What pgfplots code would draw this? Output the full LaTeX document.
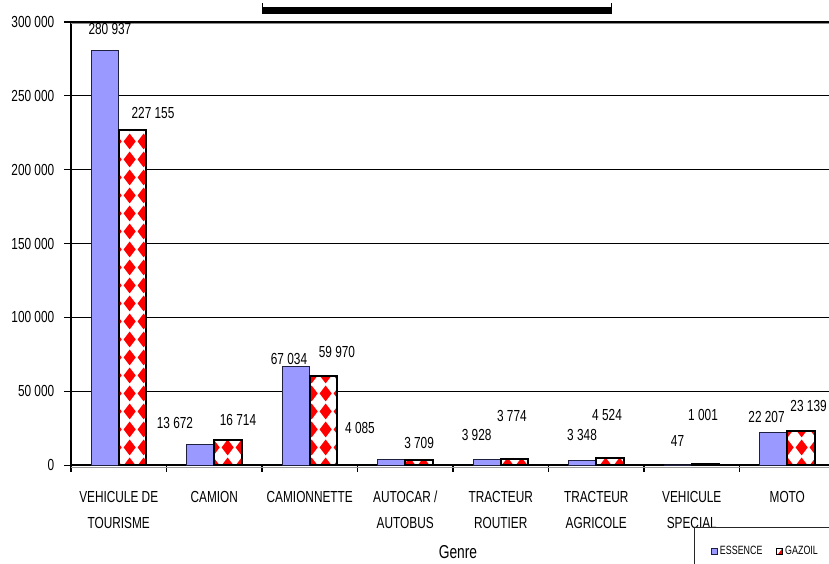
\documentclass[border=0pt]{standalone}
\usepackage{fontspec}
\setmainfont{Liberation Sans}[FakeStretch=0.74]
\usepackage{pgfplots}
\pgfplotsset{compat=1.18}
\usetikzlibrary{patterns}

\definecolor{essence}{HTML}{9999FF}
\definecolor{essedge}{HTML}{1F1F3F}

% red diamonds for the GAZOIL bars
\pgfdeclarepatternformonly{diamonds}{\pgfpointorigin}{\pgfpoint{10.23pt}{13.5pt}}{\pgfpoint{10.23pt}{13.5pt}}{%
  \pgfpathmoveto{\pgfpoint{5.115pt}{0.5pt}}%
  \pgfpathlineto{\pgfpoint{9.8pt}{6.75pt}}%
  \pgfpathlineto{\pgfpoint{5.115pt}{13pt}}%
  \pgfpathlineto{\pgfpoint{0.43pt}{6.75pt}}%
  \pgfpathclose
  \pgfusepath{fill}%
}

\newcommand\lbl{\fontsize{12}{14}\selectfont}

\begin{document}
\begin{tikzpicture}
\begin{axis}[
    name=ax,
    scale only axis,
    width=573pt, height=332.25pt,
    clip=false,
    ybar,
    xmin=-0.5, xmax=7.5,
    ymin=0, ymax=300000,
    axis x line=bottom, axis y line=left,
    axis line style={-},
    x axis line style={line width=1.5pt},
    y axis line style={line width=1pt},
    tick align=outside,
    major tick length=5pt,
    tick style={black, line width=0.8pt},
    ytick={0,50000,100000,150000,200000,250000,300000},
    yticklabels={0, 50 000, 100 000, 150 000, 200 000, 250 000, 300 000},
    scaled y ticks=false,
    yticklabel style={font=\lbl, xshift=-4pt},
    xtick={-0.5,0.5,1.5,2.5,3.5,4.5,5.5,6.5,7.5},
    xticklabels={,,,,,,,,},
    extra x ticks={0,1,2,3,4,5,6,7},
    extra x tick labels={VEHICULE DE\\TOURISME, CAMION, CAMIONNETTE, AUTOCAR /\\AUTOBUS, TRACTEUR\\ROUTIER, TRACTEUR\\AGRICOLE, VEHICULE\\SPECIAL, MOTO},
    extra x tick style={major tick length=0pt, xticklabel style={align=center, font=\fontsize{12}{19.5}\selectfont, yshift=-16pt}},
    ymajorgrids,
    grid style={black, line width=0.7pt},
    xlabel={Genre},
    xlabel style={font=\fontsize{14}{16}\selectfont, at={(axis description cs:0.5065,-0.196)}, anchor=center},
    legend style={at={(0.8154,-0.14)}, anchor=north west, draw=black!85, line width=0.8pt,
        fill=white, legend columns=2, font=\fontsize{9}{10}\selectfont,
        inner xsep=12pt, inner ysep=12pt,
        /tikz/every even column/.append style={column sep=8pt}},
    legend image code/.code={\draw[#1, line width=0.6pt] (0pt,-2.5pt) rectangle (4.5pt,2.5pt);},
]

\addplot[ybar, bar width=20.6pt, bar shift=-10.3pt, fill=essence, draw=essedge, line width=0.6pt]
    coordinates {(0,280937) (1,13672) (2,67034) (3,4085) (4,3928) (5,3348) (6,47) (7,22207)};
\addplot[ybar, bar width=20.6pt, bar shift=10.3pt, fill=white, draw=black, line width=1.5pt,
    postaction={pattern=diamonds, pattern color=red}]
    coordinates {(0,227155) (1,16714) (2,59970) (3,3709) (4,3774) (5,4524) (6,1001) (7,23139)};
\legend{ESSENCE, GAZOIL}

% heavier top grid line and shadow of the base line
\draw[black!45, line width=1.2pt] (rel axis cs:0,0.997) -- (rel axis cs:1,0.997);
\draw[black, line width=1.2pt] (rel axis cs:0,1) -- (rel axis cs:1,1);
\draw[black!40, line width=1pt] (rel axis cs:0,-0.006) -- (rel axis cs:1,-0.006);

% data labels as placed in the source
\node[font=\lbl] at (axis cs:-0.092,295600) {280 937};
\node[font=\lbl] at (axis cs:0.359,238700) {227 155};
\node[font=\lbl] at (axis cs:0.589,28780) {13 672};
\node[font=\lbl] at (axis cs:1.249,30810) {16 714};
\node[font=\lbl] at (axis cs:1.783,71780) {67 034};
\node[font=\lbl] at (axis cs:2.285,76520) {59 970};
\node[font=\lbl] at (axis cs:2.526,25400) {4 085};
\node[font=\lbl] at (axis cs:3.145,14900) {3 709};
\node[font=\lbl] at (axis cs:3.748,20300) {3 928};
\node[font=\lbl] at (axis cs:4.117,33180) {3 774};
\node[font=\lbl] at (axis cs:4.851,20300) {3 348};
\node[font=\lbl] at (axis cs:5.113,34200) {4 524};
\node[font=\lbl] at (axis cs:5.851,16590) {47};
\node[font=\lbl] at (axis cs:6.118,34200) {1 001};
\node[font=\lbl] at (axis cs:6.783,32840) {22 207};
\node[font=\lbl] at (axis cs:7.223,40290) {23 139};

% cut-off title rule at the top
\fill[black] (rel axis cs:0.25,1.018) rectangle (rel axis cs:0.708,1.034);
\draw[black, line width=1pt] (rel axis cs:0.2507,1.018) -- (rel axis cs:0.2507,1.043);
\draw[black, line width=1pt] (rel axis cs:0.7073,1.018) -- (rel axis cs:0.7073,1.043);

\coordinate (bbTL) at (rel axis cs:-0.0929,1.0497);
\coordinate (bbBR) at (rel axis cs:0.9921,-0.2212);
\end{axis}
\pgfresetboundingbox
\path[use as bounding box] (bbTL) rectangle (bbBR);
\end{tikzpicture}
\end{document}
